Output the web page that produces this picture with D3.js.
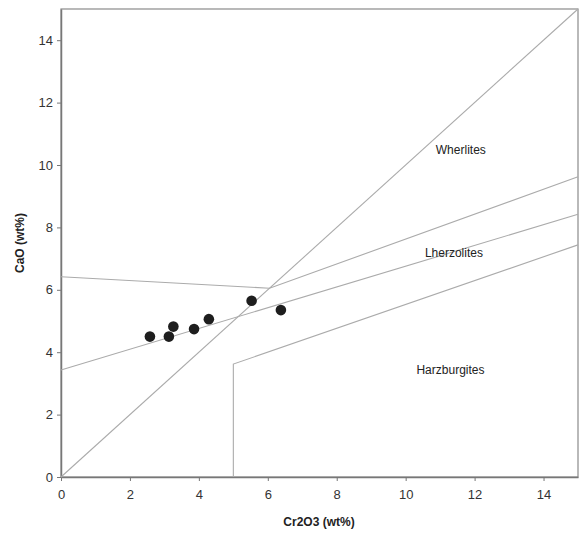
<!DOCTYPE html>
<html>
<head>
<meta charset="utf-8">
<script src="https://cdn.jsdelivr.net/npm/d3@7"></script>
<style>
  body { margin: 0; background: #fff; }
</style>
</head>
<body>
<div id="chart"></div>
<script>
// garnet samples
const cr2o3 = [2.58, 3.13, 3.26, 3.86, 4.29, 5.53, 6.38];
const cao   = [4.50, 4.50, 4.82, 4.74, 5.06, 5.65, 5.35];

// field boundaries [Cr2O3, CaO]
const diagonal  = [[0, 0], [15, 15]];
const upperLine = [[0, 6.42], [6.05, 6.05], [15, 9.62]];
const midLine   = [[0, 3.43], [15, 8.42]];
const lowerLine = [[5, 0], [5, 3.62], [15, 7.44]];

const fieldNames = ["Wherlites", "Lherzolites", "Harzburgites"];
const fieldX = [11.6, 11.4, 11.3];
const fieldY = [10.5, 7.2, 3.45];

const xTicks = [0, 2, 4, 6, 8, 10, 12, 14];
const yTicks = [0, 2, 4, 6, 8, 10, 12, 14];

const width = 579, height = 539;
const margin = {top: 9, right: 1, bottom: 62, left: 61};

const svg = d3.select("#chart").append("svg")
    .attr("width", width).attr("height", height)
    .style("font-family", "'Liberation Sans', Arial, sans-serif");

const x = d3.scaleLinear().domain([0, 15]).range([margin.left, width - margin.right]);
const y = d3.scaleLinear().domain([0, 15]).range([height - margin.bottom, margin.top]);

// frame
svg.append("rect")
    .attr("x", x(0)).attr("y", y(15))
    .attr("width", x(15) - x(0)).attr("height", y(0) - y(15))
    .attr("fill", "none").attr("stroke", "#8a8a8a").attr("stroke-width", 1.2);

// axes
const xAxis = svg.append("g")
    .attr("transform", `translate(0,${y(0)})`)
    .call(d3.axisBottom(x).tickValues(xTicks).tickSize(4).tickPadding(9).tickSizeOuter(0));
const yAxis = svg.append("g")
    .attr("transform", `translate(${x(0)},0)`)
    .call(d3.axisLeft(y).tickValues(yTicks).tickSize(4).tickPadding(4).tickSizeOuter(0));

[xAxis, yAxis].forEach(a => {
    a.select(".domain").attr("stroke", "#777").attr("stroke-width", 1.5);
    a.selectAll(".tick line").attr("stroke", "#777");
    a.selectAll(".tick text")
        .attr("fill", "#333")
        .style("font-size", "13px")
        .style("font-family", "'Liberation Sans', Arial, sans-serif");
});

// boundary lines
const line = d3.line().x(d => x(d[0])).y(d => y(d[1]));
svg.append("g")
    .selectAll("path")
    .data([diagonal, upperLine, midLine, lowerLine])
    .join("path")
    .attr("d", line)
    .attr("fill", "none")
    .attr("stroke", "#ababab")
    .attr("stroke-width", 1.1);

// field labels
svg.append("g")
    .selectAll("text")
    .data(fieldNames)
    .join("text")
    .attr("x", (d, i) => x(fieldX[i]))
    .attr("y", (d, i) => y(fieldY[i]))
    .attr("text-anchor", "middle")
    .attr("dy", "0.35em")
    .attr("fill", "#222")
    .style("font-size", "12px")
    .text(d => d);

// samples
svg.append("g")
    .selectAll("circle")
    .data(cr2o3)
    .join("circle")
    .attr("cx", d => x(d))
    .attr("cy", (d, i) => y(cao[i]))
    .attr("r", 5.3)
    .attr("fill", "#1e1e1e");

// axis titles
svg.append("text")
    .attr("x", 319).attr("y", 522)
    .attr("text-anchor", "middle").attr("dy", "0.35em")
    .style("font-size", "12px").style("font-weight", "bold")
    .attr("fill", "#222")
    .text("Cr2O3 (wt%)");

svg.append("text")
    .attr("transform", `translate(20,${243}) rotate(-90)`)
    .attr("text-anchor", "middle").attr("dy", "0.35em")
    .style("font-size", "12px").style("font-weight", "bold")
    .attr("fill", "#222")
    .text("CaO (wt%)");
</script>
</body>
</html>
